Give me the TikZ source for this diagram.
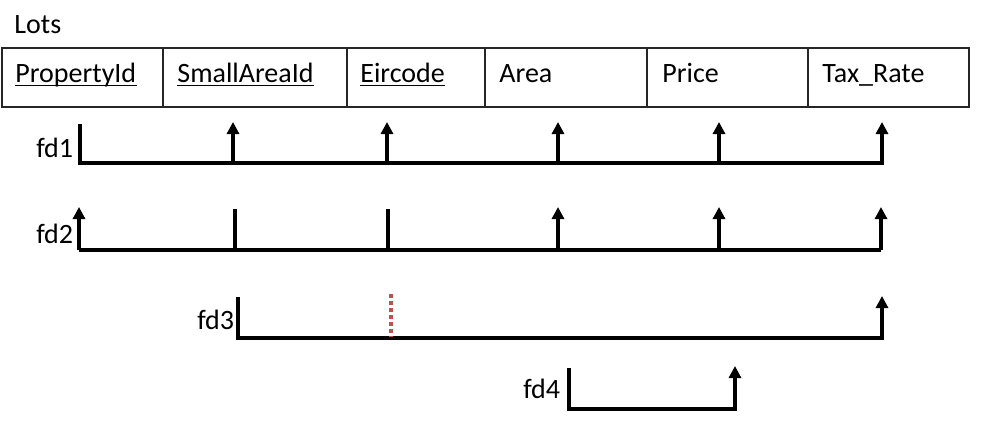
\documentclass[tikz,border=0pt]{standalone}
\usepackage{fontspec}
\setmainfont{Carlito}
\usetikzlibrary{arrows.meta}
\begin{document}
\begin{tikzpicture}[x=0.5pt,y=-0.5pt,
  cell/.style={draw=black!85, line width=1pt, minimum height=29.5pt, inner sep=0pt, anchor=north west},
  lbl/.style={font=\fontsize{14}{17}\selectfont, inner sep=0pt, anchor=base west},
  uline/.style={line width=0.7pt},
  fdline/.style={line width=1.7pt, line join=miter},
  fdarrow/.style={fdline, -{Triangle[width=6pt,length=6pt]}},
  redtick/.style={line width=1.6pt, draw={rgb,255:red,192;green,80;blue,77}, dash pattern=on 2pt off 1.5pt}
  ]
\useasboundingbox (0,0) rectangle (986,429);
% title
\node[lbl] (lots) at (14,33) {Lots};
% table cells
\node[cell, minimum width=80.5pt] (c1) at (1,47) {};
\node[cell, minimum width=92pt]   (c2) at (162,47) {};
\node[cell, minimum width=69pt]   (c3) at (346,47) {};
\node[cell, minimum width=81pt]   (c4) at (484,47) {};
\node[cell, minimum width=80.5pt] (c5) at (646,47) {};
\node[cell, minimum width=80.5pt] (c6) at (807,47) {};
% cell texts
\node[lbl] (t1) at (15,82)  {PropertyId};
\node[lbl] (t2) at (177,82) {SmallAreaId};
\node[lbl] (t3) at (360,82) {Eircode};
\node[lbl] (t4) at (499,82) {Area};
\node[lbl] (t5) at (662,82) {Price};
\node[lbl] (t6) at (822,82) {Tax\_Rate};
\foreach \t in {t1,t2,t3}
  \draw[uline] ([yshift=-1.6pt]\t.base west) -- ([yshift=-1.6pt]\t.base east);
% fd labels
\node[lbl] (fd1) at (36,157)  {fd1};
\node[lbl] (fd2) at (36,243)  {fd2};
\node[lbl] (fd3) at (197,329) {fd3};
\node[lbl] (fd4) at (523,398) {fd4};
% fd1
\coordinate (a1) at (80,124);
\coordinate (a1b) at (80,163);
\coordinate (a1e) at (882,163);
\coordinate (a1t) at (882,122);
\draw[fdarrow] (a1) -- (a1b) -- (a1e) -- (a1t);
\foreach \x in {233,387,558,719}
  \draw[fdarrow] (\x,163) -- (\x,122);
% fd2
\coordinate (b1) at (79,250);
\coordinate (b1t) at (79,207);
\coordinate (b1e) at (881,250);
\coordinate (b1et) at (881,207);
\draw[fdline] (b1) -- (b1e);
\draw[fdarrow] (b1) -- (b1t);
\draw[fdarrow] (b1e) -- (b1et);
\foreach \x in {235,388}
  \draw[fdline] (\x,250) -- (\x,209);
\foreach \x in {558,719}
  \draw[fdarrow] (\x,250) -- (\x,207);
% fd3
\coordinate (d1) at (238,297);
\coordinate (d1b) at (238,338);
\coordinate (d1e) at (882,338);
\coordinate (d1t) at (882,296);
\draw[fdarrow] (d1) -- (d1b) -- (d1e) -- (d1t);
\coordinate (r1) at (391,294);
\coordinate (r1b) at (391,337);
\draw[redtick] (r1) -- (r1b);
% fd4
\coordinate (e1) at (569,368);
\coordinate (e1b) at (569,409);
\coordinate (e1e) at (735,409);
\coordinate (e1t) at (735,366);
\draw[fdarrow] (e1) -- (e1b) -- (e1e) -- (e1t);
\end{tikzpicture}
\end{document}
